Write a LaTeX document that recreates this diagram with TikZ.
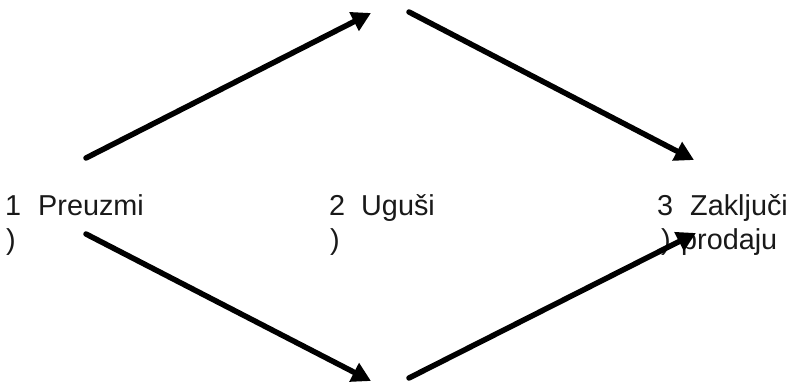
\documentclass[tikz,border=0pt]{standalone}
\usepackage{fontspec}
\setmainfont{Liberation Sans}
\usetikzlibrary{arrows.meta}
\begin{document}
\begin{tikzpicture}[x=1pt,y=-1pt,
  lbl/.style={inner sep=0pt,anchor=base west,font=\fontsize{28.8}{34}\selectfont,text=black!90},
  flow/.style={line width=5.5pt,line cap=round,-{Triangle[length=19pt,width=20pt]}}]
\useasboundingbox (0,0) rectangle (793,382);
% labels
\node[lbl] (n1) at (5,216) {1};
\node[lbl] (w1) at (38,216) {Preuzmi};
\node[lbl] (p1) at (6,250) {)};
\node[lbl] (n2) at (329,216) {2};
\node[lbl] (w2) at (361,216) {Ugu\v{s}i};
\node[lbl] (p2) at (330,250) {)};
\node[lbl] (n3) at (657,216) {3};
\node[lbl] (w3) at (690,216) {Zaklju\v{c}i};
\node[lbl] (p3) at (661,250) {)};
\node[lbl] (w3b) at (681,250) {prodaju};
% arrow endpoints
\coordinate (a1) at (86,158);
\coordinate (b1) at (371,13);
\coordinate (a2) at (409,12);
\coordinate (b2) at (694,160);
\coordinate (a3) at (86,234);
\coordinate (b3) at (371,381);
\coordinate (a4) at (409,378);
\coordinate (b4) at (696,233);
\draw[flow] (a1) -- (b1);
\draw[flow] (a2) -- (b2);
\draw[flow] (a3) -- (b3);
\draw[flow] (a4) -- (b4);
\end{tikzpicture}
\end{document}
